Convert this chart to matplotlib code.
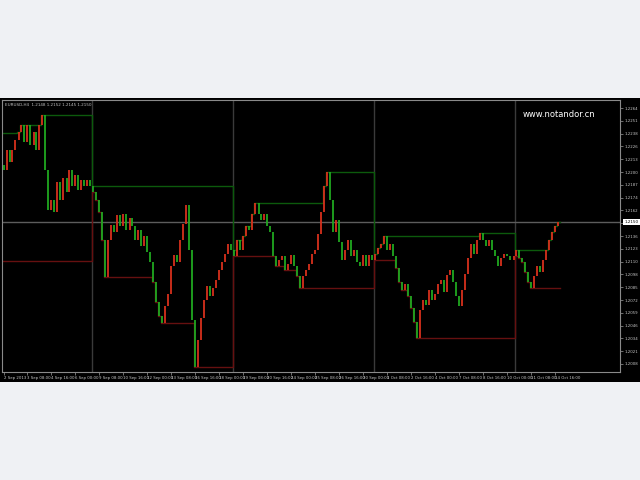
import numpy as np
import matplotlib
matplotlib.use('Agg')
from matplotlib import pyplot as plt

# H4 closes
closes = [1.2202, 1.2222, 1.2210, 1.2222, 1.2232, 1.2240, 1.2247, 1.2230, 1.2247, 1.2227,
          1.2240, 1.2222, 1.2247, 1.2257, 1.2202, 1.2162, 1.2172, 1.2160, 1.2190, 1.2172,
          1.2194, 1.2180, 1.2202, 1.2186, 1.2197, 1.2182, 1.2192, 1.2186, 1.2192, 1.2186,
          1.2180, 1.2172, 1.2160, 1.2132, 1.2095, 1.2132, 1.2147, 1.2140, 1.2157, 1.2146,
          1.2158, 1.2142, 1.2154, 1.2146, 1.2132, 1.2142, 1.2126, 1.2136, 1.2120, 1.2110,
          1.2090, 1.2070, 1.2056, 1.2049, 1.2066, 1.2078, 1.2106, 1.2117, 1.2110, 1.2132,
          1.2148, 1.2167, 1.2122, 1.2052, 1.2005, 1.2032, 1.2054, 1.2072, 1.2086, 1.2076,
          1.2084, 1.2092, 1.2102, 1.2110, 1.2118, 1.2128, 1.2122, 1.2116, 1.2132, 1.2122,
          1.2136, 1.2146, 1.2142, 1.2158, 1.2169, 1.2158, 1.2152, 1.2158, 1.2146, 1.2140,
          1.2116, 1.2106, 1.2112, 1.2116, 1.2102, 1.2108, 1.2117, 1.2106, 1.2096, 1.2084,
          1.2096, 1.2102, 1.2108, 1.2118, 1.2122, 1.2138, 1.2160, 1.2186, 1.2200, 1.2172,
          1.2140, 1.2152, 1.2130, 1.2112, 1.2122, 1.2132, 1.2116, 1.2122, 1.2110, 1.2106,
          1.2117, 1.2106, 1.2117, 1.2112, 1.2118, 1.2124, 1.2128, 1.2136, 1.2122, 1.2128,
          1.2116, 1.2104, 1.2090, 1.2082, 1.2088, 1.2076, 1.2064, 1.2050, 1.2034, 1.2062,
          1.2072, 1.2067, 1.2082, 1.2072, 1.2078, 1.2088, 1.2092, 1.2080, 1.2097, 1.2102,
          1.2090, 1.2076, 1.2066, 1.2082, 1.2098, 1.2114, 1.2128, 1.2118, 1.2132, 1.2139,
          1.2132, 1.2126, 1.2132, 1.2122, 1.2116, 1.2106, 1.2114, 1.2118, 1.2116, 1.2112,
          1.2116, 1.2122, 1.2114, 1.2110, 1.2100, 1.2090, 1.2084, 1.2096, 1.2106, 1.2100,
          1.2112, 1.2122, 1.2132, 1.2140, 1.2146, 1.2150]
first_open = 1.2207

# week starts (bar index) and extremes carried in from before the window
week_starts = [0, 30, 77, 124, 171]
first_week_high = 1.2239
first_week_low = 1.2111

date_labels = ['2 Sep 2013', '3 Sep 08:00', '4 Sep 16:00', '6 Sep 00:00', '9 Sep 08:00',
               '10 Sep 16:00', '12 Sep 00:00', '13 Sep 08:00', '16 Sep 16:00', '18 Sep 00:00',
               '19 Sep 08:00', '20 Sep 16:00', '24 Sep 00:00', '25 Sep 08:00', '26 Sep 16:00',
               '30 Sep 00:00', '1 Oct 08:00', '2 Oct 16:00', '4 Oct 00:00', '7 Oct 08:00',
               '8 Oct 16:00', '10 Oct 00:00', '11 Oct 08:00', '14 Oct 16:00']

symbol_line = 'EURUSD,H4  1.2148 1.2152 1.2145 1.2150'
watermark = 'www.notandor.cn'

closes = np.array(closes)
opens = np.r_[first_open, closes[:-1]]
n = len(closes)
x = np.arange(n)

# running weekly high / low
hi = np.empty(n)
lo = np.empty(n)
bounds = week_starts + [n]
for k in range(len(week_starts)):
    a, b = bounds[k], bounds[k + 1]
    top = np.maximum(opens[a:b], closes[a:b])
    bot = np.minimum(opens[a:b], closes[a:b])
    if k == 0:
        top[0] = max(top[0], first_week_high)
        bot[0] = min(bot[0], first_week_low)
    hi[a:b] = np.maximum.accumulate(top)
    lo[a:b] = np.minimum.accumulate(bot)

fig = plt.figure(figsize=(6.4, 4.8), dpi=100, facecolor='#eff1f4')
panel = fig.add_axes([0, 98 / 480, 1, 284 / 480])
panel.set_facecolor('black')
panel.set_xticks([])
panel.set_yticks([])
for s in panel.spines.values():
    s.set_visible(False)

ax = fig.add_axes([2 / 640, 108 / 480, 618 / 640, 272 / 480])
ax.set_facecolor('black')
ax.set_xlim(-0.5, 205.5)
ax.set_ylim(1.2000, 1.2272)

# week separators
for w in week_starts[1:]:
    ax.axvline(w - 0.5, color='#3a3a3a', lw=1)
# bid line
ax.axhline(closes[-1], color='#5c5c5c', lw=1)

# weekly high / low steps
xs = np.r_[x - 0.5, n - 0.5]
ax.step(xs, np.r_[hi, hi[-1]], where='post', color='#0c5a0c', lw=1)
ax.step(xs, np.r_[lo, lo[-1]], where='post', color='#661010', lw=1)

# candles: up red, down green
up = closes >= opens
colors = np.where(up, '#d8301c', '#20a820')
ax.vlines(x, opens, closes, colors=colors, lw=1.3)

ax.yaxis.tick_right()
yt = np.arange(1.2008, 1.2272, 0.00128)
ax.set_yticks(yt)
ax.set_yticklabels(['' if abs(v - closes[-1]) < 0.0007 else '%.4f' % v for v in yt])
ax.set_xticks(np.arange(0, 8 * len(date_labels), 8))
ax.set_xticklabels(date_labels, ha='left')
ax.tick_params(colors='#9a9a9a', labelcolor='#c8c8c8', labelsize=2.8, length=2, width=0.5, pad=1)
for s in ax.spines.values():
    s.set_color('#8a8a8a')
    s.set_linewidth(0.8)

ax.annotate('%.4f' % closes[-1], xy=(1.0, closes[-1]), xycoords=('axes fraction', 'data'),
            xytext=(3, 0), textcoords='offset points', fontsize=3, color='black', va='center',
            bbox=dict(boxstyle='square,pad=0.3', fc='white', ec='none'))

ax.text(0.005, 0.99, symbol_line, transform=ax.transAxes, fontsize=3, color='#c0c0c0',
        ha='left', va='top')
ax.text(0.842, 0.945, watermark, transform=ax.transAxes, fontsize=6, color='white',
        ha='left', va='center')

fig.savefig('out.png', dpi=100, facecolor=fig.get_facecolor())
